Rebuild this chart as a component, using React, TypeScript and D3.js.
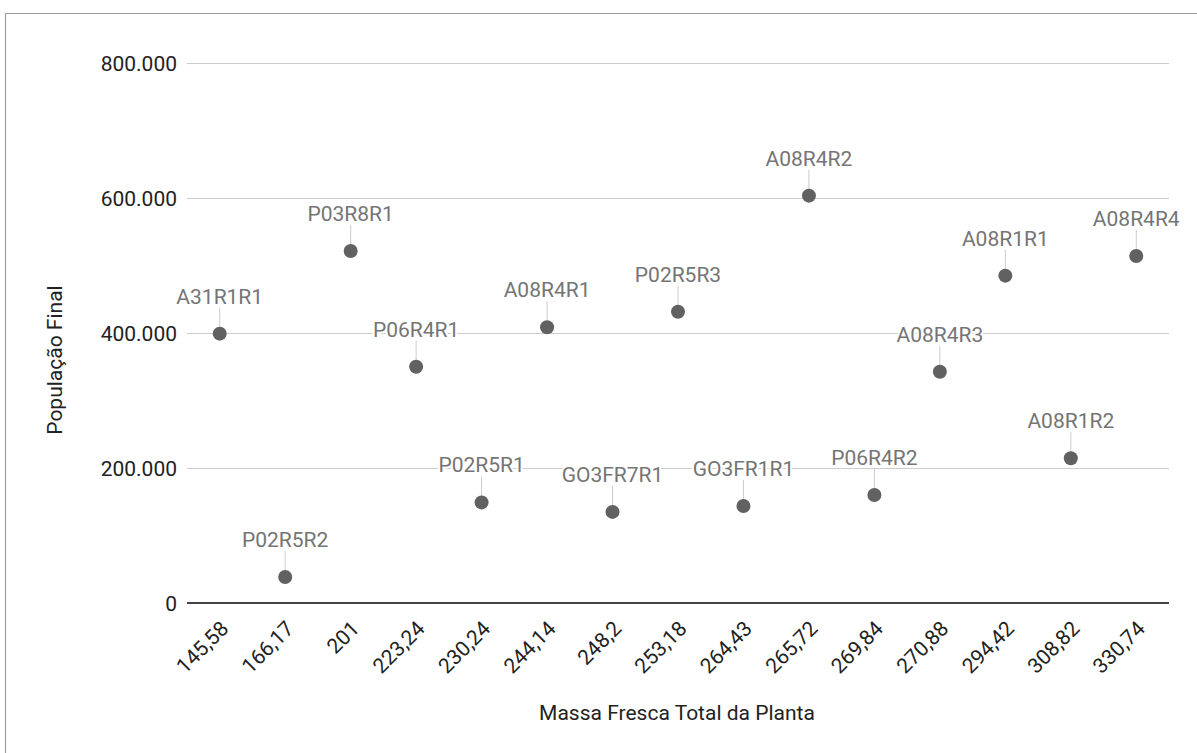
import React, { useEffect, useRef } from "react";
import * as d3 from "d3";

// Massa fresca (x categories), população final (y) and sample codes
const masses = ["145,58", "166,17", "201", "223,24", "230,24", "244,14", "248,2", "253,18", "264,43", "265,72", "269,84", "270,88", "294,42", "308,82", "330,74"];
const populations = [399000, 38500, 521500, 350000, 149000, 408500, 135000, 431500, 143700, 603500, 160000, 342600, 485000, 214500, 514000];
const codes = ["A31R1R1", "P02R5R2", "P03R8R1", "P06R4R1", "P02R5R1", "A08R4R1", "GO3FR7R1", "P02R5R3", "GO3FR1R1", "A08R4R2", "P06R4R2", "A08R4R3", "A08R1R1", "A08R1R2", "A08R4R4"];
const yTicks = [0, 200000, 400000, 600000, 800000];

const W = 1197;
const H = 753;
const FONT = "Roboto, 'Noto Sans', sans-serif";

export default function App() {
  const ref = useRef<SVGSVGElement | null>(null);

  useEffect(() => {
    const svg = d3.select(ref.current);
    svg.selectAll("*").remove();

    const left = 187, right = 1169, top = 63, bottom = 603;

    const x = d3.scaleBand<string>().domain(masses).range([left, right]).padding(0);
    const y = d3.scaleLinear().domain([0, 800000]).range([bottom, top]);
    const fmt = (v: number) => d3.format(",")(v).replace(/,/g, ".");

    svg.append("rect").attr("width", W).attr("height", H).attr("fill", "#fff");

    // outer frame (top and left edges visible)
    svg.append("path")
      .attr("d", `M5.5,${H} V13.5 H${W}`)
      .attr("fill", "none")
      .attr("stroke", "#9e9e9e")
      .attr("stroke-width", 1.2);

    // gridlines
    svg.append("g")
      .selectAll("line")
      .data(yTicks.filter((t) => t !== 0))
      .join("line")
      .attr("x1", left)
      .attr("x2", right)
      .attr("y1", (d) => Math.round(y(d)) + 0.5)
      .attr("y2", (d) => Math.round(y(d)) + 0.5)
      .attr("stroke", "#cccccc")
      .attr("stroke-width", 1);

    // y tick labels
    svg.append("g")
      .selectAll("text")
      .data(yTicks)
      .join("text")
      .attr("x", 177)
      .attr("y", (d) => y(d))
      .attr("dy", "0.36em")
      .attr("text-anchor", "end")
      .attr("font-family", FONT)
      .attr("font-size", 21)
      .attr("fill", "#222")
      .text((d) => fmt(d));

    // x tick labels (slanted)
    svg.append("g")
      .selectAll("text")
      .data(masses)
      .join("text")
      .attr("transform", (d) => `translate(${(x(d) as number) + x.bandwidth() / 2 + 10},630) rotate(-45)`)
      .attr("text-anchor", "end")
      .attr("font-family", FONT)
      .attr("font-size", 21)
      .attr("fill", "#222")
      .text((d) => d);

    // axis titles
    svg.append("text")
      .attr("x", 677)
      .attr("y", 720)
      .attr("text-anchor", "middle")
      .attr("font-family", FONT)
      .attr("font-size", 21)
      .attr("fill", "#222")
      .text("Massa Fresca Total da Planta");

    svg.append("text")
      .attr("transform", "translate(62,360) rotate(-90)")
      .attr("text-anchor", "middle")
      .attr("font-family", FONT)
      .attr("font-size", 21)
      .attr("fill", "#222")
      .text("População Final");

    const pts = masses.map((m, i) => ({ m, v: populations[i], code: codes[i] }));
    const g = svg.append("g");

    // leader lines
    g.selectAll("line.leader")
      .data(pts)
      .join("line")
      .attr("class", "leader")
      .attr("x1", (d) => (x(d.m) as number) + x.bandwidth() / 2)
      .attr("x2", (d) => (x(d.m) as number) + x.bandwidth() / 2)
      .attr("y1", (d) => y(d.v) - 26)
      .attr("y2", (d) => y(d.v))
      .attr("stroke", "#cccccc")
      .attr("stroke-width", 1);

    // data labels with white halo
    g.selectAll("text.lbl")
      .data(pts)
      .join("text")
      .attr("class", "lbl")
      .attr("x", (d) => (x(d.m) as number) + x.bandwidth() / 2)
      .attr("y", (d) => y(d.v) - 30)
      .attr("text-anchor", "middle")
      .attr("font-family", FONT)
      .attr("font-size", 21)
      .attr("fill", "#757575")
      .attr("stroke", "#fff")
      .attr("stroke-width", 4)
      .attr("paint-order", "stroke")
      .text((d) => d.code);

    // zero baseline
    svg.append("line")
      .attr("x1", left)
      .attr("x2", right)
      .attr("y1", y(0))
      .attr("y2", y(0))
      .attr("stroke", "#444")
      .attr("stroke-width", 2);

    // points
    g.selectAll("circle")
      .data(pts)
      .join("circle")
      .attr("cx", (d) => (x(d.m) as number) + x.bandwidth() / 2)
      .attr("cy", (d) => y(d.v))
      .attr("r", 7)
      .attr("fill", "#616161");
  }, []);

  return (
    <svg
      ref={ref}
      width={W}
      height={H}
      style={{ position: "fixed", left: 0, top: 0, display: "block" }}
    />
  );
}
